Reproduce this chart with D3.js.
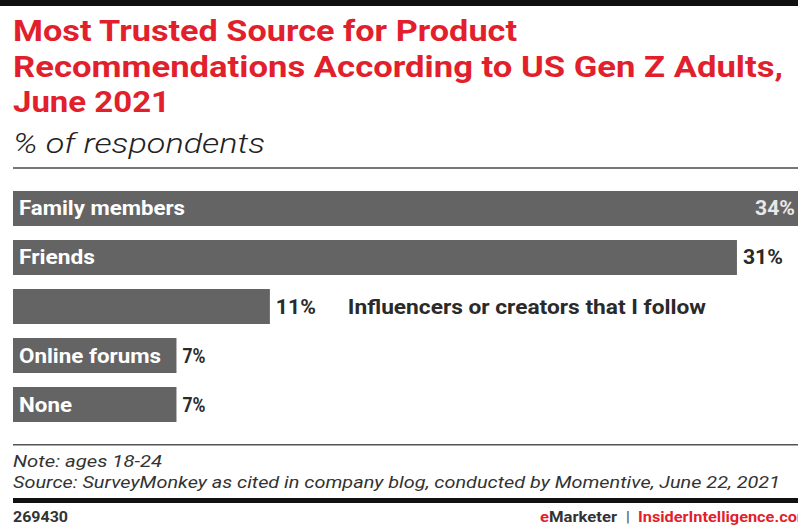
<!DOCTYPE html>
<html><head><meta charset="utf-8">
<script src="https://cdn.jsdelivr.net/npm/d3@7"></script>
<style>html,body{margin:0;padding:0;background:#fff;overflow:hidden}</style>
</head><body>
<script>
const categories = ["Family members", "Friends", "Influencers or creators that I follow", "Online forums", "None"];
const values = [34, 31, 11, 7, 7];
const valueLabels = ["34%", "31%", "11%", "7%", "7%"];
const titleLines = ["Most Trusted Source for Product", "Recommendations According to US Gen Z Adults,", "June 2021"];
const subtitle = "% of respondents";
const noteLines = ["Note: ages 18-24", "Source: SurveyMonkey as cited in company blog, conducted by Momentive, June 22, 2021"];
const chartId = "269430";

const W = 798, H = 529;
const FONT = "Roboto, 'Liberation Sans', Arial, sans-serif";
const RED = "#e21f2c";
const svg = d3.select("body").append("svg").attr("width", W).attr("height", H).style("font-family", FONT);

function len(sel, target) {
  return sel.attr("textLength", target).attr("lengthAdjust", "spacingAndGlyphs");
}

// top bar
svg.append("rect").attr("x", 0).attr("y", 0).attr("width", W).attr("height", 6).attr("fill", "#111");

// title
const titleBase = [41, 77, 112];
const titleEnds = [517, 783, 170];
titleLines.forEach((t, i) => {
  len(svg.append("text").attr("x", 13).attr("y", titleBase[i]).attr("font-size", 29)
    .attr("font-weight", 700).attr("fill", RED).text(t), titleEnds[i] - 13);
});
len(svg.append("text").attr("x", 13).attr("y", 153).attr("font-size", 27).attr("font-style", "italic")
  .attr("font-weight", 300).attr("fill", "#222").text(subtitle), 266 - 14);

svg.append("rect").attr("x", 13).attr("y", 167).attr("width", W - 13).attr("height", 2).attr("fill", "#777");

// scales
const x = d3.scaleLinear().domain([0, 34]).range([13, 807]);
const y = d3.scaleBand().domain(categories).range([191, 422]).paddingInner(0.286).paddingOuter(0);

const rows = svg.append("g").selectAll("g.row")
  .data(categories.map((c, i) => ({c, v: values[i], l: valueLabels[i]})))
  .join("g").attr("class", "row");

rows.append("rect").attr("x", x(0)).attr("y", d => y(d.c)).attr("width", d => x(d.v) - x(0))
  .attr("height", y.bandwidth()).attr("fill", "#646464");

const labelEnds = {"Family members": 185, "Friends": 95, "Online forums": 161, "None": 72};
rows.each(function(d) {
  const r = d3.select(this);
  const cy = y(d.c) + y.bandwidth() / 2;
  const inside = x(d.v) + 45 > W;
  const vl = r.append("text").attr("y", cy + 7).attr("font-size", 20).attr("font-weight", 700).text(d.l);
  const vw = d.l.length === 3 ? 40 : 23;
  len(vl, vw);
  if (inside) vl.attr("x", W - 3 - vw).attr("fill", "#e8e8e8");
  else vl.attr("x", x(d.v) + 6).attr("fill", "#2a2a2a");
  if (labelEnds[d.c] !== undefined) {
    len(r.append("text").attr("x", 19).attr("y", cy + 7).attr("font-size", 20).attr("font-weight", 700)
      .attr("fill", "#fff").text(d.c), labelEnds[d.c] - 19);
  } else {
    const lx = x(d.v) + 78;
    len(r.append("text").attr("x", lx).attr("y", cy + 7).attr("font-size", 20).attr("font-weight", 700)
      .attr("fill", "#2a2a2a").text(d.c), 706 - lx);
  }
});

// footer
svg.append("rect").attr("x", 13).attr("y", 444).attr("width", W - 13).attr("height", 1.5).attr("fill", "#555");
len(svg.append("text").attr("x", 13).attr("y", 467).attr("font-size", 17).attr("font-style", "italic")
  .attr("fill", "#333").text(noteLines[0]), 162 - 13);
len(svg.append("text").attr("x", 13).attr("y", 488).attr("font-size", 17).attr("font-style", "italic")
  .attr("fill", "#333").text(noteLines[1]), 780 - 13);
svg.append("rect").attr("x", 13).attr("y", 498).attr("width", W - 13).attr("height", 5).attr("fill", "#111");
len(svg.append("text").attr("x", 13).attr("y", 522).attr("font-size", 14).attr("font-weight", 700)
  .attr("fill", "#333").text(chartId), 68 - 13);
const fy = 522;
const f1 = svg.append("text").attr("x", 540).attr("y", fy).attr("font-size", 15).attr("font-weight", 700);
f1.append("tspan").attr("fill", RED).text("e");
f1.append("tspan").attr("fill", "#333").text("Marketer");
len(f1, 77);
svg.append("text").attr("x", 626).attr("y", fy).attr("font-size", 15).attr("font-weight", 700).attr("fill", "#555").text("|");
len(svg.append("text").attr("x", 638).attr("y", fy).attr("font-size", 15).attr("font-weight", 700)
  .attr("fill", RED).text("InsiderIntelligence.com"), 173);
</script>
</body></html>
